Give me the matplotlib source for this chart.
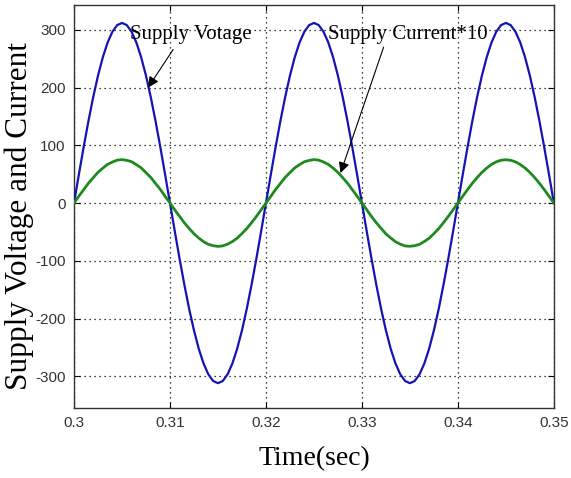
import numpy as np
import matplotlib
matplotlib.use('Agg')
import matplotlib.pyplot as plt

plt.rcParams['axes.unicode_minus'] = False

# Time samples (s), 0.5 ms step
time = np.round(np.arange(0.3, 0.35001, 0.0005), 4)

# Supply voltage (V)
voltage = [
    0, 48.8, 96.4, 141.6, 183.4, 220.6, 252.4, 278.0, 296.7, 308.2,
    312.0, 308.2, 296.7, 278.0, 252.4, 220.6, 183.4, 141.6, 96.4, 48.8,
    0, -48.8, -96.4, -141.6, -183.4, -220.6, -252.4, -278.0, -296.7, -308.2,
    -312.0, -308.2, -296.7, -278.0, -252.4, -220.6, -183.4, -141.6, -96.4, -48.8,
    0, 48.8, 96.4, 141.6, 183.4, 220.6, 252.4, 278.0, 296.7, 308.2,
    312.0, 308.2, 296.7, 278.0, 252.4, 220.6, 183.4, 141.6, 96.4, 48.8,
    0, -48.8, -96.4, -141.6, -183.4, -220.6, -252.4, -278.0, -296.7, -308.2,
    -312.0, -308.2, -296.7, -278.0, -252.4, -220.6, -183.4, -141.6, -96.4, -48.8,
    0, 48.8, 96.4, 141.6, 183.4, 220.6, 252.4, 278.0, 296.7, 308.2,
    312.0, 308.2, 296.7, 278.0, 252.4, 220.6, 183.4, 141.6, 96.4, 48.8,
    0,
]

# Supply current * 10 (A)
current = [
    0, 11.9, 23.0, 34.4, 43.8, 53.3, 60.4, 67.1, 71.0, 74.4,
    75.2, 74.0, 71.6, 66.5, 61.0, 52.7, 44.4, 33.8, 23.5, 11.4,
    0.3, -11.8, -23.1, -34.3, -44.0, -53.2, -60.6, -66.9, -71.4, -73.9,
    -75.1, -74.2, -71.2, -66.7, -60.8, -52.8, -44.2, -34.0, -23.3, -11.6,
    -0.2, 11.6, 23.4, 33.9, 44.3, 52.8, 60.9, 66.6, 71.5, 73.8,
    75.3, 74.3, 71.1, 67.0, 60.5, 53.1, 43.9, 34.3, 23.1, 11.8,
    0.2, -11.5, -23.4, -34.1, -43.8, -53.4, -60.5, -67.0, -71.2, -74.3,
    -74.9, -73.9, -71.5, -66.6, -60.9, -52.9, -44.3, -33.9, -23.0, -11.7,
    0.1, 11.8, 23.2, 34.2, 44.0, 53.1, 60.6, 66.9, 71.4, 74.2,
    75.0, 74.1, 71.3, 66.8, 60.7, 53.0, 44.1, 34.1, 23.2, 11.7,
    0,
]

xticks = [0.3, 0.31, 0.32, 0.33, 0.34, 0.35]
xticklabels = ['0.3', '0.31', '0.32', '0.33', '0.34', '0.35']
yticks = [-300, -200, -100, 0, 100, 200, 300]

fig = plt.figure(figsize=(5.71, 4.78), dpi=100)
ax = fig.add_axes([0.1296, 0.1464, 0.8404, 0.8431])

ax.plot(time, voltage, color='#1414b4', lw=1.6, zorder=3)
ax.plot(time, current, color='#1e8a1e', lw=2.0, zorder=3)

ax.set_xlim(0.3, 0.35)
ax.set_ylim(-355, 343)
ax.set_xticks(xticks)
ax.set_xticklabels(xticklabels)
ax.set_yticks(yticks)
ax.grid(True, color='k', linestyle=(0, (1, 3)), lw=0.9)
ax.tick_params(direction='in', top=True, right=True, length=4,
               labelsize=11, labelcolor='#333333', pad=6)
for lab in ax.get_xticklabels() + ax.get_yticklabels():
    lab.set_family('Liberation Sans')
for s in ax.spines.values():
    s.set_color('#333333')
    s.set_linewidth(1.0)

ax.set_xlabel('Time(sec)', family='Liberation Serif', fontsize=20, labelpad=11)
ax.set_ylabel('Supply Voltage and Current', family='Liberation Serif',
              fontsize=22.5)
ax.yaxis.set_label_coords(-0.083, 0.476)

# Annotations
ax.text(0.30585, 292, 'Supply Votage', family='Liberation Serif',
        fontsize=15, ha='left', va='center')
ax.annotate('', xy=(0.30772, 200), xytext=(0.31033, 266),
            arrowprops=dict(arrowstyle='-|>', color='k', lw=0.8,
                            mutation_scale=16, shrinkA=0, shrinkB=0))
ax.text(0.32651, 292, 'Supply Current*10', family='Liberation Serif',
        fontsize=15, ha='left', va='center')
ax.annotate('', xy=(0.32777, 52), xytext=(0.33226, 270),
            arrowprops=dict(arrowstyle='-|>', color='k', lw=0.8,
                            mutation_scale=16, shrinkA=0, shrinkB=0))

plt.savefig('out.png', dpi=100)
